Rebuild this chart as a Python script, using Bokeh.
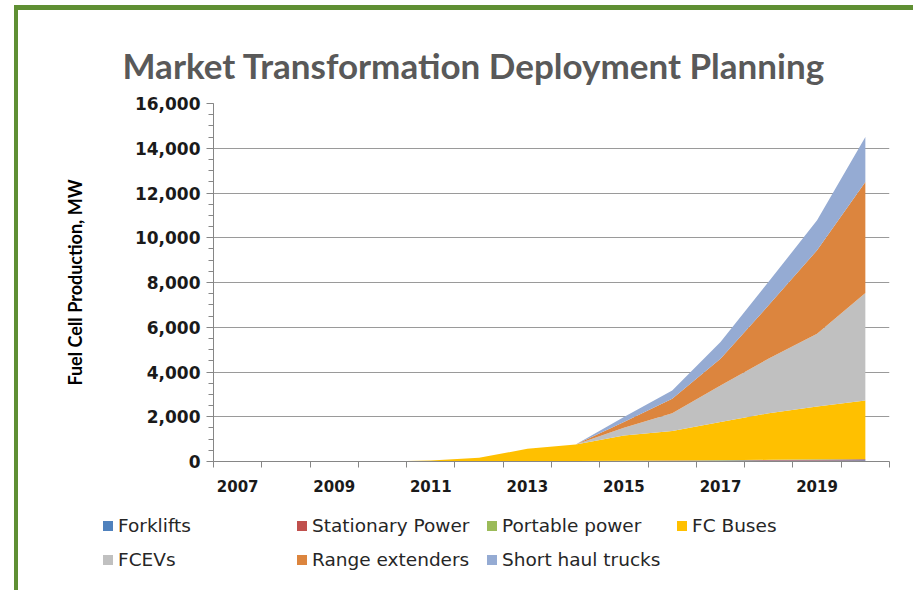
from bokeh.plotting import figure
from bokeh.layouts import column
from bokeh.models import (ColumnDataSource, Range1d, FixedTicker, SingleIntervalTicker,
                          NumeralTickFormatter, Div)
from bokeh.embed import file_html
from bokeh.resources import INLINE

# ---- data (MW of fuel cell production) ----
years = [2007, 2008, 2009, 2010, 2011, 2012, 2013, 2014, 2015, 2016, 2017, 2018, 2019, 2020]
forklifts = [0, 0, 0, 0, 10, 15, 20, 25, 30, 35, 40, 45, 50, 55]
stationary = [0, 0, 0, 0, 0, 0, 0, 0, 0, 5, 10, 20, 30, 40]
portable = [0, 0, 0, 0, 0, 0, 0, 0, 0, 0, 5, 10, 15, 20]
fc_buses = [0, 0, 0, 0, 35, 150, 550, 735, 1130, 1320, 1705, 2085, 2365, 2615]
fcevs = [0, 0, 0, 0, 0, 0, 0, 0, 350, 800, 1640, 2440, 3250, 4800]
range_ext = [0, 0, 0, 0, 0, 0, 0, 0, 250, 640, 1190, 2390, 3730, 4960]
trucks = [0, 0, 0, 0, 0, 0, 0, 0, 230, 375, 750, 1050, 1340, 2010]

label_years = [2007, 2009, 2011, 2013, 2015, 2017, 2019]
series_names = ["Forklifts", "Stationary Power", "Portable power", "FC Buses",
                "FCEVs", "Range extenders", "Short haul trucks"]
keys = ["forklifts", "stationary", "portable", "fc_buses", "fcevs", "range_ext", "trucks"]
colors = ["#4f81bd", "#c0504d", "#9bbb59", "#ffc000", "#c0c0c0", "#dc853e", "#95abd3"]

source = ColumnDataSource(dict(year=years, forklifts=forklifts, stationary=stationary,
                               portable=portable, fc_buses=fc_buses, fcevs=fcevs,
                               range_ext=range_ext, trucks=trucks))

# ---------------- main chart ----------------
p = figure(width=888, height=500, output_backend="svg", toolbar_location=None,
           x_range=Range1d(2006.5, 2020.5), y_range=Range1d(0, 16000),
           min_border_left=195, min_border_right=17, min_border_top=93,
           min_border_bottom=49, outline_line_color=None)

p.varea_stack(stackers=keys, x="year", color=colors, source=source)

p.title.text = "Market Transformation Deployment Planning"
p.title.align = "left"
p.title.offset = -91
p.title.text_font = "Lato"
p.title.text_font_size = "35px"
p.title.text_font_style = "bold"
p.title.text_color = "#595959"
p.title.standoff = 35

axis_col = "#868686"
xa = p.xaxis[0]
xa.ticker = FixedTicker(ticks=label_years, minor_ticks=[y - 0.5 for y in years] + [2020.5])
xa.major_tick_line_color = None
xa.major_tick_out = 0
xa.major_tick_in = 0
xa.minor_tick_out = 6
xa.minor_tick_in = 0
xa.minor_tick_line_color = axis_col
xa.axis_line_color = axis_col
xa.major_label_text_font = "DejaVu Sans"
xa.major_label_text_font_style = "bold"
xa.major_label_text_font_size = "15px"
xa.major_label_text_color = "#1a1a1a"
xa.major_label_standoff = 12

ya = p.yaxis[0]
ya.ticker = SingleIntervalTicker(interval=2000, num_minor_ticks=4)
ya.formatter = NumeralTickFormatter(format="0,0")
ya.major_tick_out = 7
ya.major_tick_in = 0
ya.minor_tick_out = 5
ya.minor_tick_in = 0
ya.major_tick_line_color = axis_col
ya.minor_tick_line_color = axis_col
ya.axis_line_color = axis_col
ya.major_label_text_font = "DejaVu Sans"
ya.major_label_text_font_style = "bold"
ya.major_label_text_font_size = "17px"
ya.major_label_text_color = "#1a1a1a"
ya.major_label_standoff = 6
ya.axis_label = "Fuel Cell Production, MW"
ya.axis_label_text_font = "Lato"
ya.axis_label_text_font_style = "bold"
ya.axis_label_text_font_size = "18px"
ya.axis_label_text_color = "#000000"
ya.axis_label_standoff = 46

p.xgrid.grid_line_color = None
p.ygrid.ticker = SingleIntervalTicker(interval=2000)
p.ygrid.grid_line_color = "#9a9a9a"
p.ygrid.grid_line_width = 1

# ---------------- legend strip (HTML, 4 columns x 2 rows) ----------------
col_x = [80, 274, 464, 654]     # swatch left edge inside the strip
row_y = [11, 45]                # row centre inside the strip
parts = ['<div style="position:relative;width:888px;height:75px;'
         'font-family:\'DejaVu Sans\';font-size:18.5px;color:#262626;">']
for i, (name, c) in enumerate(zip(series_names, colors)):
    x = col_x[i % 4]
    y = row_y[i // 4]
    parts.append(
        f'<div style="position:absolute;left:{x}px;top:{y - 12}px;height:24px;'
        f'display:flex;align-items:center;white-space:nowrap;">'
        f'<span style="display:inline-block;width:10px;height:10px;background:{c};'
        f'margin-right:5px;"></span><span>{name}</span></div>')
parts.append('</div>')
legend_div = Div(text="".join(parts), width=888, height=75)

layout = column(p, legend_div, spacing=0,
                styles={"margin-left": "14px", "margin-top": "5px",
                        "border-top": "5px solid #5f8f33",
                        "border-left": "4px solid #5f8f33",
                        "border-right": "4px solid #5f8f33"})

open("out.html", "w").write(file_html(layout, INLINE))
